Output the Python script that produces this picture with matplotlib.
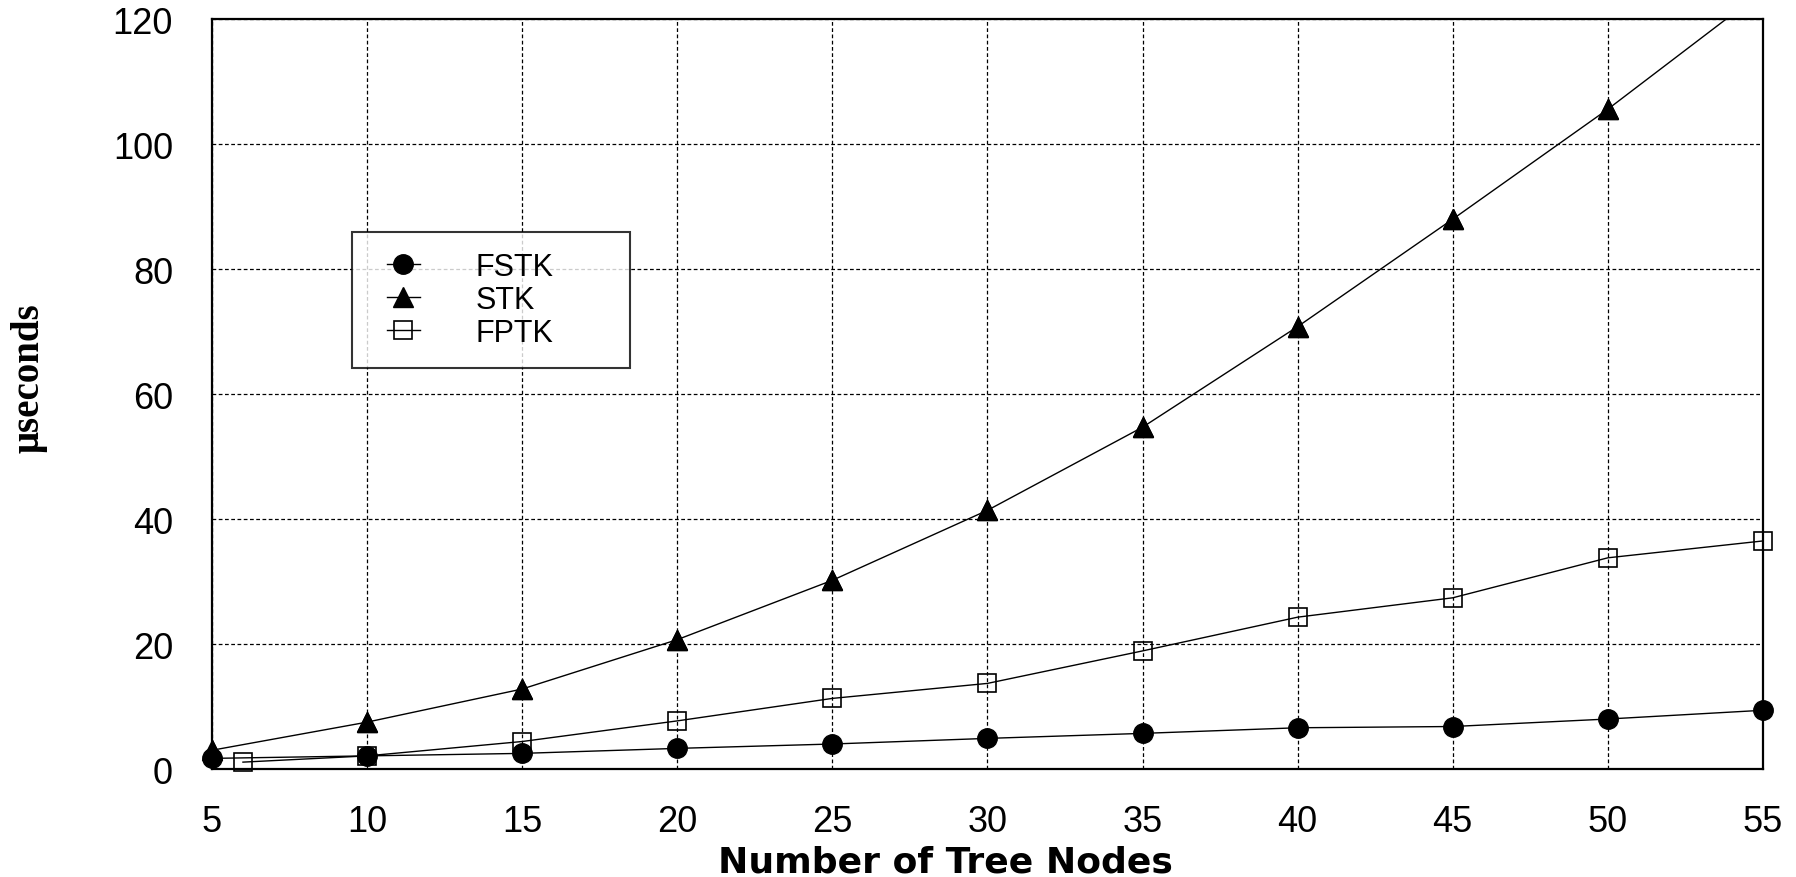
import matplotlib
matplotlib.use("Agg")
import matplotlib.pyplot as plt
from matplotlib.lines import Line2D
from matplotlib.legend_handler import HandlerLine2D

nodes = [5, 10, 15, 20, 25, 30, 35, 40, 45, 50, 55]
fptk_nodes = [6, 10, 15, 20, 25, 30, 35, 40, 45, 50, 55]

fstk = [1.7, 2.1, 2.5, 3.3, 4.0, 4.9, 5.7, 6.6, 6.8, 8.0, 9.4]
stk = [3.0, 7.5, 12.8, 20.7, 30.2, 41.4, 54.7, 70.8, 88.0, 105.6, 124.5]
fptk = [1.1, 2.1, 4.4, 7.7, 11.3, 13.7, 18.9, 24.3, 27.4, 33.8, 36.5]

x_ticks = [5, 10, 15, 20, 25, 30, 35, 40, 45, 50, 55]
y_ticks = [0, 20, 40, 60, 80, 100, 120]

plt.rcParams['font.family'] = ['Liberation Sans', 'DejaVu Sans']

fig = plt.figure(figsize=(17.96, 8.78), dpi=100)
ax = fig.add_axes([0.118, 0.123, 0.8636, 0.854])

ax.plot(nodes, fstk, color='black', linewidth=1.0, marker='o', markersize=14,
        markerfacecolor='black', label='FSTK', clip_on=False, zorder=3)
ax.plot(nodes, stk, color='black', linewidth=1.0, marker='^', markersize=14,
        markerfacecolor='black', label='STK', zorder=3)
# markers of STK that sit inside the y range, drawn again unclipped
vis = [(x, y) for x, y in zip(nodes, stk) if y <= 120]
ax.plot([p[0] for p in vis], [p[1] for p in vis], linestyle='none', marker='^',
        markersize=14, color='black', clip_on=False, zorder=3)
ax.plot(fptk_nodes, fptk, color='black', linewidth=1.0, marker='s', markersize=13,
        markerfacecolor='none', markeredgecolor='black', markeredgewidth=1.2,
        label='FPTK', clip_on=False, zorder=2)

ax.set_xlim(5, 55)
ax.set_ylim(0, 120)
ax.set_xticks(x_ticks)
ax.set_yticks(y_ticks)
ax.tick_params(axis='both', length=0, labelsize=26)
ax.tick_params(axis='x', pad=25)
ax.tick_params(axis='y', pad=28)

ax.set_axisbelow(True)
ax.grid(True, color='black', linestyle=(0, (3, 2)), linewidth=0.9)
for s in ax.spines.values():
    s.set_linewidth(1.6)

ax.set_xlabel('Number of Tree Nodes', fontsize=26, fontweight='bold',
              family=['DejaVu Sans'])
ax.xaxis.set_label_coords(0.473, -0.137)
ax.xaxis.label.set_va('baseline')
ax.set_ylabel('\u03bcseconds', fontsize=28, fontweight='bold',
              family=['Liberation Serif', 'DejaVu Serif'])
ax.yaxis.set_label_coords(-0.106, 0.523)

leg = ax.legend(loc='upper left', bbox_to_anchor=(0.090, 0.536, 0.1795, 0.18),
                mode='expand', borderaxespad=0, fontsize=22, frameon=True,
                fancybox=False, edgecolor='black', handlelength=1.6,
                handletextpad=1.8, labelspacing=0.1, borderpad=0.65,
                handler_map={Line2D: HandlerLine2D(xpad=0.5)})
leg.get_frame().set_linewidth(1.5)

fig.savefig('out.png', dpi=100)
